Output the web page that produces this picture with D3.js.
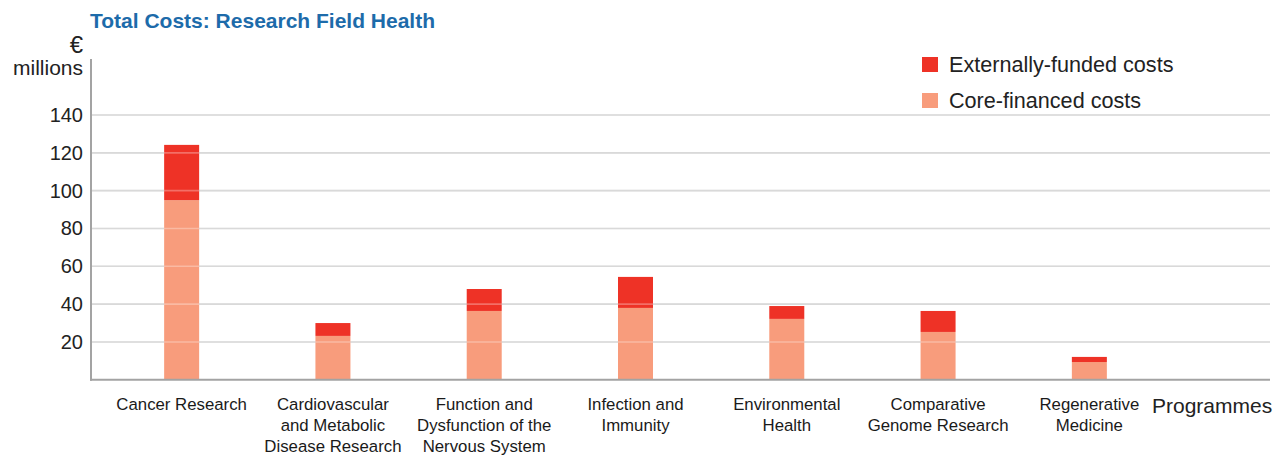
<!DOCTYPE html>
<html>
<head>
<meta charset="utf-8">
<script src="https://cdn.jsdelivr.net/npm/d3@7"></script>
<style>
  html, body { margin: 0; padding: 0; background: #fff; }
  svg { display: block; font-family: "Liberation Sans", Arial, sans-serif; }
</style>
</head>
<body>
<svg id="chart" width="1275" height="457"></svg>
<script>
// Programme names (line breaks mark label wrapping)
const categories = [
  "Cancer Research",
  "Cardiovascular\nand Metabolic\nDisease Research",
  "Function and\nDysfunction of the\nNervous System",
  "Infection and\nImmunity",
  "Environmental\nHealth",
  "Comparative\nGenome Research",
  "Regenerative\nMedicine"
];
// € millions
const coreFinanced     = [95, 23.2, 36.4, 38, 32.2, 25.3, 9.4];
const externallyFunded = [29.2, 6.8, 11.6, 16.4, 6.8, 11.1, 2.7];
const yTicks = [20, 40, 60, 80, 100, 120, 140];
const seriesNames = ["Externally-funded costs", "Core-financed costs"];

const colExternal = "#ee3226";
const colCore = "#f89c7c";

const svg = d3.select("#chart");

const axisX0 = 91, plotRight = 1270;
const y = d3.scaleLinear().domain([0, 140]).range([379.8, 115]);
const x = d3.scaleBand().domain(categories).range([106, 1165]).padding(0);
const barW = 35;
const cx = d => x(d) + x.bandwidth() / 2;

// Title
svg.append("text")
  .attr("x", 90).attr("y", 28)
  .attr("font-size", 21).attr("font-weight", "bold")
  .attr("fill", "#1d6baa")
  .text("Total Costs: Research Field Health");

// Unit label
svg.append("text").attr("x", 83).attr("y", 53)
  .attr("text-anchor", "end").attr("font-size", 24).attr("fill", "#222").text("€");
svg.append("text").attr("x", 83).attr("y", 75)
  .attr("text-anchor", "end").attr("font-size", 21).attr("fill", "#222").text("millions");

// Gridlines
const grid = svg.append("g");
grid.selectAll("line").data(yTicks).join("line")
  .attr("x1", axisX0).attr("x2", plotRight)
  .attr("y1", d => y(d)).attr("y2", d => y(d))
  .attr("stroke", "#c9c9c9").attr("stroke-width", 1.6);

// Y tick labels
svg.append("g").selectAll("text").data(yTicks).join("text")
  .attr("x", 83).attr("y", d => y(d) + 7)
  .attr("text-anchor", "end").attr("font-size", 20).attr("fill", "#222")
  .text(d => d);

// Stacked bars
const rows = categories.map((c, i) => ({ c, core: coreFinanced[i], ext: externallyFunded[i] }));
const bars = svg.append("g");
bars.selectAll("rect.core").data(rows).join("rect")
  .attr("class", "core")
  .attr("x", d => cx(d.c) - barW / 2).attr("width", barW)
  .attr("y", d => y(d.core)).attr("height", d => y(0) - y(d.core))
  .attr("fill", colCore);
bars.selectAll("rect.ext").data(rows).join("rect")
  .attr("class", "ext")
  .attr("x", d => cx(d.c) - barW / 2).attr("width", barW)
  .attr("y", d => y(d.core + d.ext)).attr("height", d => y(d.core) - y(d.core + d.ext))
  .attr("fill", colExternal);

// Faint gridline sheen across the bars
svg.append("g").selectAll("line").data(yTicks).join("line")
  .attr("x1", axisX0).attr("x2", plotRight)
  .attr("y1", d => y(d)).attr("y2", d => y(d))
  .attr("stroke", "#fff").attr("stroke-opacity", 0.3).attr("stroke-width", 1.6);

// Axes lines
svg.append("line").attr("x1", axisX0).attr("x2", axisX0).attr("y1", 59).attr("y2", y(0) + 1)
  .attr("stroke", "#a3a3a3").attr("stroke-width", 2);
svg.append("line").attr("x1", axisX0 - 1).attr("x2", plotRight).attr("y1", y(0)).attr("y2", y(0))
  .attr("stroke", "#a3a3a3").attr("stroke-width", 2);

// Category labels
const xl = svg.append("g").selectAll("text").data(categories).join("text")
  .attr("text-anchor", "middle").attr("font-size", 16.8).attr("fill", "#1a1a1a")
  .attr("transform", d => `translate(${cx(d)},409.5)`);
xl.selectAll("tspan").data(d => d.split("\n")).join("tspan")
  .attr("x", 0).attr("dy", (d, i) => i === 0 ? 0 : 21).text(d => d);

svg.append("text").attr("x", 1152).attr("y", 413)
  .attr("font-size", 21).attr("fill", "#222").text("Programmes");

// Legend
const legend = svg.append("g").selectAll("g").data(seriesNames).join("g")
  .attr("transform", (d, i) => `translate(922,${57 + i * 36})`);
legend.append("rect").attr("width", 16).attr("height", 15)
  .attr("fill", (d, i) => i === 0 ? colExternal : colCore);
legend.append("text").attr("x", 27).attr("y", 14.5)
  .attr("font-size", 21.6).attr("fill", "#222").text(d => d);
</script>
</body>
</html>
